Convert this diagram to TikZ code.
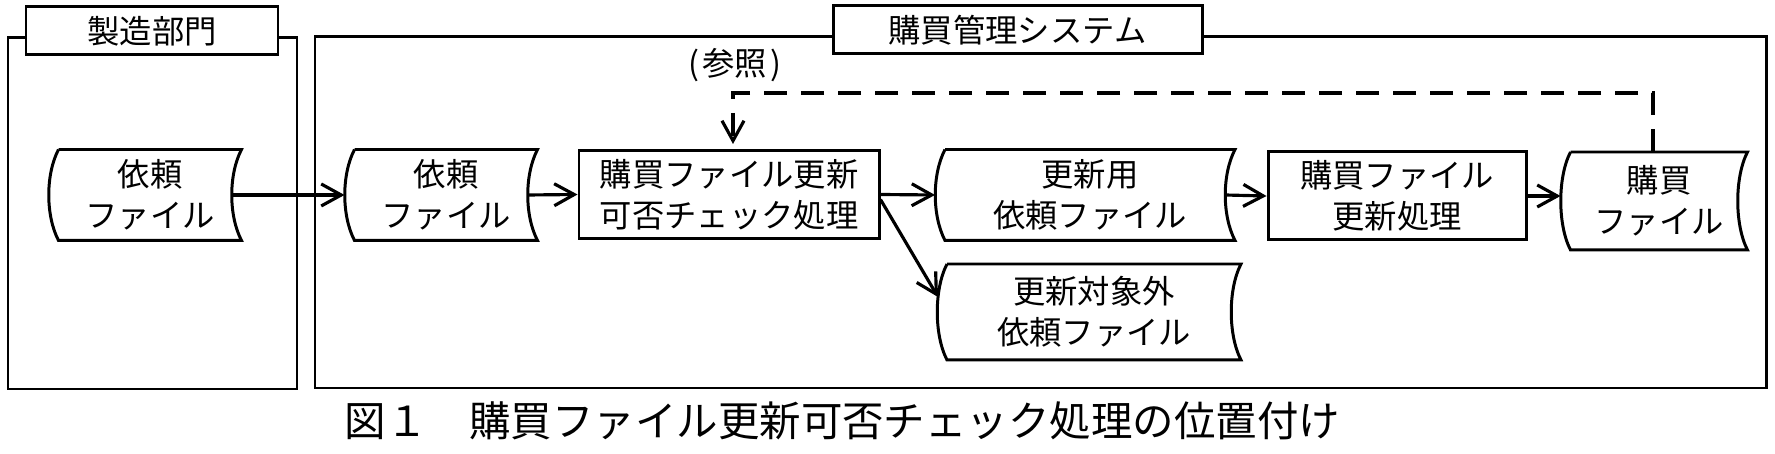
\documentclass[tikz,border=0pt]{standalone}
\usepackage{fontspec}
\setmainfont{Noto Sans CJK JP}
\usepackage{tikz}
\usetikzlibrary{arrows.meta,positioning}

\begin{document}
\begin{tikzpicture}[
  font=\fontsize{9.2pt}{11.6pt}\selectfont,
  line width=0.85pt,
  panel/.style={draw, line width=0.85pt},
  title/.style={draw, fill=white, inner sep=0pt, minimum height=0.48cm, minimum width=#1},
  proc/.style={draw, align=center, inner sep=0pt, minimum height=0.88cm, minimum width=#1},
  store/.style={align=center, inner sep=0pt, minimum height=0.88cm, minimum width=#1},
  arr/.style={-{Straight Barb[length=2mm, width=2.2mm]}, line width=0.9pt},
  refarr/.style={arr, dash pattern=on 2.3mm off 1.4mm, shorten >=0.5mm},
  figcap/.style={font=\fontsize{11.8pt}{14pt}\selectfont},
]
\useasboundingbox (0,0) rectangle (17.75,-4.54);
% departments
\draw[panel] (0.08,-0.38) rectangle (2.97,-3.89);
\draw[panel] (3.15,-0.37) rectangle (17.66,-3.88);
\node[title=2.52cm] (mfg) at (1.52,-0.31) {製造部門};
\node[title=3.69cm] (sys) at (10.175,-0.30) {購買管理システム};
% files and processes
\node[store=1.80cm] (reqA) at (1.50,-1.95) {依頼\\ファイル};
\node[store=1.80cm] (reqB) at (4.46,-1.95) {依頼\\ファイル};
\node[proc=3.00cm] (chk) at (7.29,-1.945) {購買ファイル更新\\可否チェック処理};
\node[store=2.87cm] (upd) at (10.90,-1.95) {更新用\\依頼ファイル};
\node[store=2.91cm, minimum height=0.93cm] (skip) at (10.94,-3.12) {更新対象外\\依頼ファイル};
\node[proc=2.58cm] (upd2) at (13.97,-1.96) {購買ファイル\\更新処理};
\node[store=1.74cm, minimum height=0.95cm] (pur) at (16.59,-2.01) {購買\\ファイル};
\node (refl) at (7.35,-0.65) {(\kern1pt参照\kern1pt)};
% file outlines
\foreach \fn in {reqA,reqB,upd,skip,pur}
  \draw (\fn.north west) -- (\fn.north east)
    .. controls +(-0.13,-0.25) and +(-0.13,0.25) .. (\fn.south east)
    -- (\fn.south west)
    .. controls +(-0.13,0.25) and +(-0.13,-0.25) .. (\fn.north west);
% data flow
\draw[arr] ([xshift=-1mm]reqA.east) -- ([xshift=-1mm]reqB.west);
\draw[arr] ([xshift=-1mm]reqB.east) -- (chk.west);
\draw[arr] (chk.east) -- ([xshift=-1mm]upd.west);
\draw[arr] ([yshift=-0.5mm]chk.east) -- ([xshift=-0.9mm,yshift=1.5mm]skip.west);
\draw[arr] ([xshift=-1mm]upd.east) -- (upd2.west);
\draw[arr] (upd2.east) -- ([xshift=-1mm]upd2.east -| pur.west);
\draw[refarr] ([xshift=-0.6mm]pur.north) -- ++(0,0.59) -| ([xshift=0.4mm]chk.north);
% caption
\node[figcap] (caption) at (8.425,-4.21) {図１　購買ファイル更新可否チェック処理の位置付け};
\end{tikzpicture}
\end{document}
